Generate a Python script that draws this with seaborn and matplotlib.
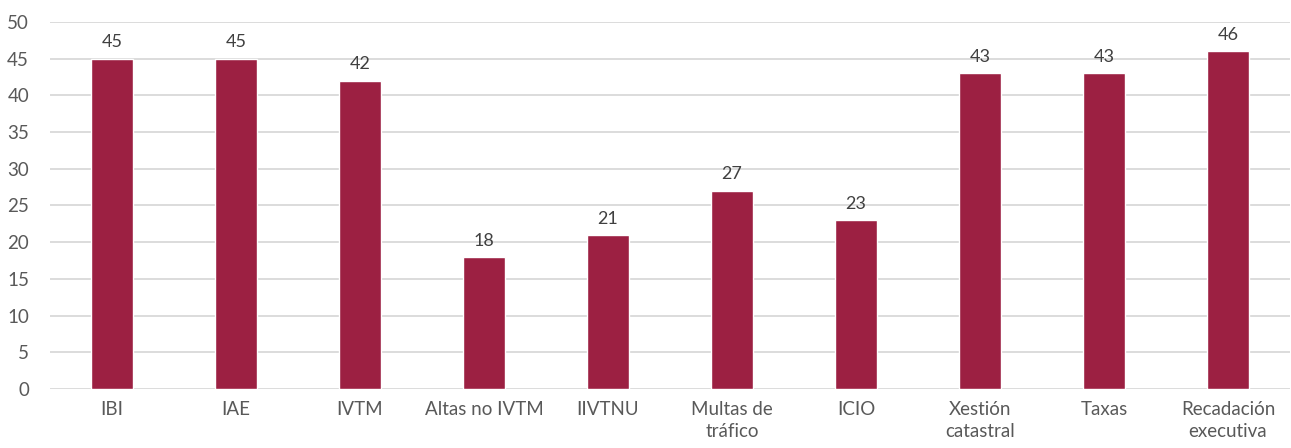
import pandas as pd
import matplotlib
matplotlib.use("Agg")
import matplotlib.pyplot as plt
import seaborn as sns

categorias = ["IBI", "IAE", "IVTM", "Altas no IVTM", "IIVTNU",
              "Multas de\ntráfico", "ICIO", "Xestión\ncatastral", "Taxas",
              "Recadación\nexecutiva"]
valores = [45, 45, 42, 18, 21, 27, 23, 43, 43, 46]
ticks_y = [0, 5, 10, 15, 20, 25, 30, 35, 40, 45, 50]

df = pd.DataFrame({"categoria": categorias, "valor": valores})

sns.set_style("white")
plt.rcParams["font.family"] = ["Lato", "DejaVu Sans"]

fig = plt.figure(figsize=(12.91, 4.48), dpi=100)
ax = fig.add_axes([0.0387, 0.1317, 0.9605, 0.8193])

sns.barplot(data=df, x="categoria", y="valor", color="#9C2042",
            width=0.34, saturation=1, ax=ax, zorder=3)

# etiquetas enriba das barras
for cont in ax.containers:
    ax.bar_label(cont, labels=[str(v) for v in valores], padding=6,
                 fontsize=13, color="#404040")

ax.set_ylim(0, 50)
ax.set_yticks(ticks_y)
ax.set_xlim(-0.5, len(categorias) - 0.5)
ax.grid(axis="y", color="#D9D9D9", linewidth=1.3, zorder=0)
ax.set_axisbelow(True)
for s in ax.spines.values():
    s.set_visible(False)
ax.set_xlabel("")
ax.set_ylabel("")
ax.tick_params(axis="both", length=0, labelsize=13.5, labelcolor="#595959")
ax.tick_params(axis="x", pad=9)
ax.tick_params(axis="y", pad=15)
for lab in ax.get_xticklabels():
    lab.set_linespacing(1.3)

fig.savefig("out.png", dpi=100)
